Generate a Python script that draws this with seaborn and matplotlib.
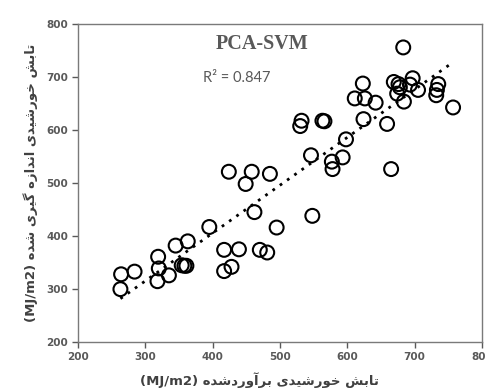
import numpy as np
import pandas as pd
import matplotlib
matplotlib.use("Agg")
import matplotlib.pyplot as plt
import seaborn as sns

# Estimated vs measured solar radiation (MJ/m2), PCA-SVM model
estimated = [264, 284, 263, 319, 320, 318, 335, 345, 363, 354, 358, 361,
             395, 417, 439, 417, 428, 470, 481, 495, 424, 458, 449, 485,
             462, 548, 546, 577, 578, 593, 598, 665, 530, 532, 563, 566,
             624, 659, 611, 626, 642, 623, 669, 676, 678, 674, 684, 697,
             693, 705, 735, 733, 732, 757, 683]
measured = [328, 333, 300, 361, 339, 315, 326, 382, 390, 345, 344, 344,
            417, 374, 375, 334, 342, 374, 369, 416, 521, 521, 498, 517,
            445, 438, 552, 540, 526, 548, 582, 526, 607, 617, 617, 616,
            620, 611, 659, 659, 651, 687, 690, 686, 680, 668, 653, 697,
            685, 675, 686, 675, 665, 642, 755]

x_ticks = [200, 300, 400, 500, 600, 700, 800]
y_ticks = [200, 300, 400, 500, 600, 700, 800]

title_text = "PCA-SVM"
r2_text = "R² = 0.847"
x_label_fa = "تابش خورشیدی برآوردشده"
y_label_fa = "تابش خورشیدی اندازه گیری شده"
unit_text = "(MJ/m2)"

# Contextual Arabic-script forms: (isolated, final, initial, medial)
FORMS = {
    "ا": ("\uFE8D", "\uFE8E", None, None),
    "آ": ("\uFE81", "\uFE82", None, None),
    "ب": ("\uFE8F", "\uFE90", "\uFE91", "\uFE92"),
    "ت": ("\uFE95", "\uFE96", "\uFE97", "\uFE98"),
    "خ": ("\uFEA5", "\uFEA6", "\uFEA7", "\uFEA8"),
    "د": ("\uFEA9", "\uFEAA", None, None),
    "ر": ("\uFEAD", "\uFEAE", None, None),
    "ز": ("\uFEAF", "\uFEB0", None, None),
    "ش": ("\uFEB5", "\uFEB6", "\uFEB7", "\uFEB8"),
    "ن": ("\uFEE5", "\uFEE6", "\uFEE7", "\uFEE8"),
    "ه": ("\uFEE9", "\uFEEA", "\uFEEB", "\uFEEC"),
    "و": ("\uFEED", "\uFEEE", None, None),
    "ی": ("\uFBFC", "\uFBFD", "\uFBFE", "\uFBFF"),
    "گ": ("\uFB92", "\uFB93", "\uFB94", "\uFB95"),
}


def shape_rtl(text):
    """Join letters into contextual forms and return them in display order."""
    out = []
    for i, ch in enumerate(text):
        if ch not in FORMS:
            out.append(ch)
            continue
        prev = text[i - 1] if i > 0 else ""
        nxt = text[i + 1] if i + 1 < len(text) else ""
        join_prev = prev in FORMS and FORMS[prev][2] is not None
        join_next = FORMS[ch][2] is not None and nxt in FORMS
        iso, fin, ini, med = FORMS[ch]
        if join_prev and join_next:
            out.append(med)
        elif join_prev:
            out.append(fin)
        elif join_next:
            out.append(ini)
        else:
            out.append(iso)
    return "".join(reversed(out))


df = pd.DataFrame({"estimated": estimated, "measured": measured})

sns.set_style("ticks")
plt.rcParams["font.family"] = ["DejaVu Sans"]

fig = plt.figure(figsize=(4.86, 3.88), dpi=100)
ax = fig.add_axes([0.1605, 0.1178, 0.8313, 0.8216])

grey = "#595959"

sns.scatterplot(data=df, x="estimated", y="measured", ax=ax,
                marker="o", s=100, facecolors="none", edgecolor="black",
                linewidth=1.5, zorder=3)
sns.regplot(data=df, x="estimated", y="measured", ax=ax, scatter=False,
            ci=None, truncate=True,
            line_kws=dict(color="black", linestyle=(0, (1, 2.2)),
                          linewidth=2.0, zorder=2))

ax.set_xlim(200, 800)
ax.set_ylim(200, 800)
ax.set_xticks(x_ticks)
ax.set_yticks(y_ticks)
ax.set_xticklabels([str(v) for v in x_ticks], fontsize=7.5,
                   fontweight="bold", color=grey)
ax.set_yticklabels([str(v) for v in y_ticks], fontsize=7.5,
                   fontweight="bold", color=grey)
ax.tick_params(direction="out", length=4, width=1, color=grey, pad=3)
for sp in ax.spines.values():
    sp.set_visible(True)
    sp.set_color("#7a7a7a")
    sp.set_linewidth(1.0)

ax.set_xlabel(unit_text + " " + shape_rtl(x_label_fa), fontsize=9.5,
              fontweight="bold", color="#404040")
ax.xaxis.set_label_coords(0.45, -0.095)
ax.set_ylabel(unit_text + " " + shape_rtl(y_label_fa), fontsize=9.5,
              fontweight="bold", color="#404040", labelpad=6)

ax.text(0.455, 0.935, title_text, transform=ax.transAxes, ha="center",
        va="center", fontsize=14.5, fontweight="bold", color=grey,
        family=["Liberation Serif"])
ax.text(0.31, 0.83, r2_text, transform=ax.transAxes, ha="left",
        va="center", fontsize=10.5, color=grey, family=["Lato", "DejaVu Sans"])

fig.savefig("out.png", dpi=100)
